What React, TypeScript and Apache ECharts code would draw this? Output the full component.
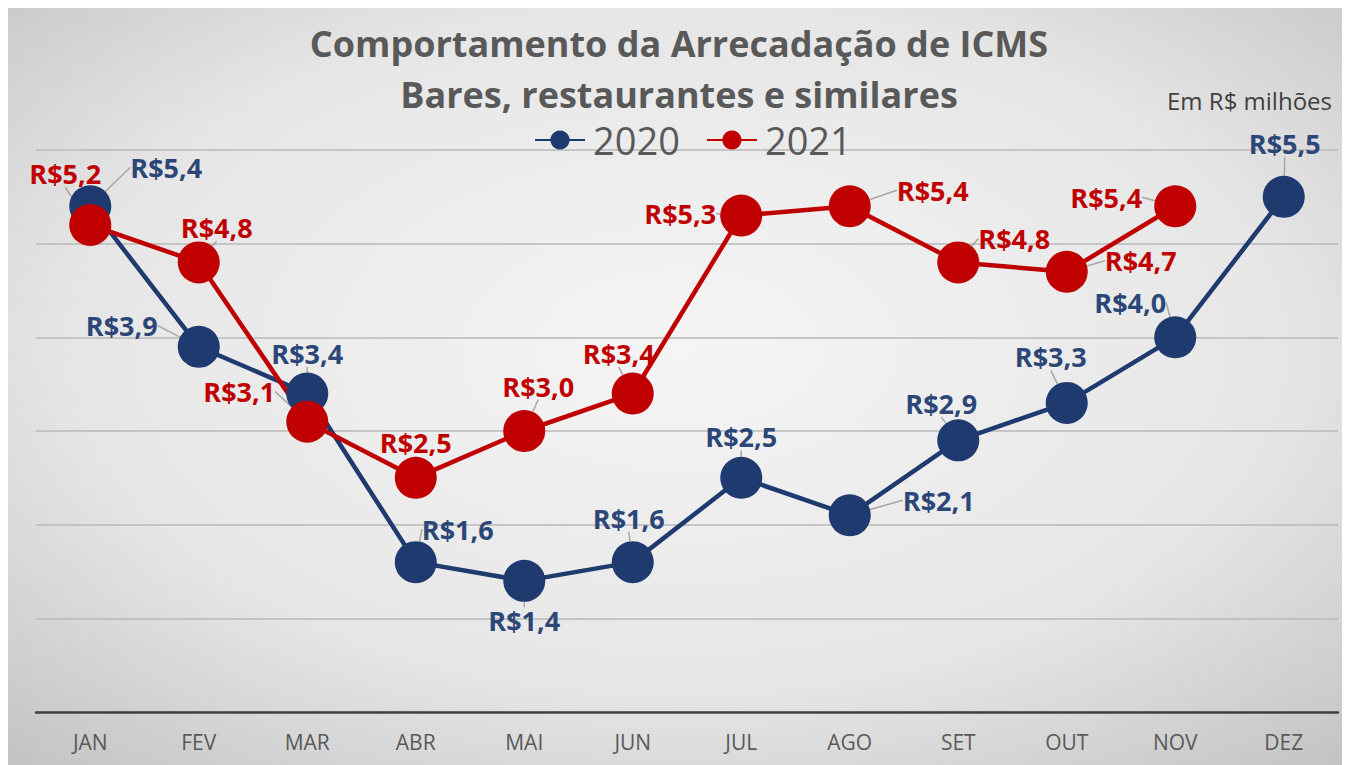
import React, { useEffect, useRef } from "react";
import * as echarts from "echarts";

const months = ["JAN", "FEV", "MAR", "ABR", "MAI", "JUN", "JUL", "AGO", "SET", "OUT", "NOV", "DEZ"];
const values2020 = [5.4, 3.9, 3.4, 1.6, 1.4, 1.6, 2.5, 2.1, 2.9, 3.3, 4.0, 5.5];
const values2021 = [5.2, 4.8, 3.1, 2.5, 3.0, 3.4, 5.3, 5.4, 4.8, 4.7, 5.4, null];
const seriesNames = ["2020", "2021"];
const yTicks = [0, 1, 2, 3, 4, 5, 6];

// label offsets (dx, dy) relative to each point's centre
const offsets2020 = [
  [76, -39], [-77, -21], [0, -40], [42, -33], [0, 40], [-4, -44],
  [0, -41], [89, -15], [-17, -37], [-16, -46], [-45, -35], [1, -53],
];
const offsets2021 = [
  [-25, -51], [18, -35], [-68, -30], [0, -35], [14, -45], [-14, -40],
  [-61, -2], [83, -16], [56, -24], [74, -11], [-69, -9], [0, 0],
];

const BLUE = "#1F3A6E";
const BLUE_LABEL = "#2C4777";
const RED = "#C00000";
const FONT = "'Open Sans', sans-serif";

const fmt = (v: number) => "R$" + v.toFixed(1).replace(".", ",");

export default function App() {
  const ref = useRef<HTMLDivElement>(null);
  useEffect(() => {
    if (!ref.current) return;
    const chart = echarts.init(ref.current, null, { renderer: "svg" });
    const offsets = [offsets2020, offsets2021];
    const mkSeries = (name: string, data: (number | null)[], color: string, labelColor: string) => ({
      name,
      type: "line",
      data,
      symbol: "circle",
      symbolSize: 42,
      showAllSymbol: true,
      lineStyle: { color, width: 4.5 },
      itemStyle: { color },
      label: {
        show: true,
        position: "inside",
        formatter: (p: any) => fmt(p.value),
        color: labelColor,
        fontFamily: FONT,
        fontWeight: "bold",
        fontSize: 27,
      },
      labelLine: { show: true, lineStyle: { color: "#a6a6a6", width: 1.5 } },
      labelLayout: (p: any) => {
        const o = offsets[p.seriesIndex][p.dataIndex];
        return { dx: o[0], dy: o[1] };
      },
    });
    chart.setOption({
      animation: false,
      backgroundColor: {
        type: "radial",
        x: 0.5,
        y: 0.45,
        r: 0.75,
        colorStops: [
          { offset: 0, color: "#f5f5f5" },
          { offset: 0.6, color: "#e6e6e6" },
          { offset: 1, color: "#c2c2c2" },
        ],
      },
      title: {
        text: "Comportamento da Arrecadação de ICMS\nBares, restaurantes e similares",
        left: "center",
        top: 10,
        padding: 0,
        textStyle: {
          fontFamily: FONT,
          fontWeight: "bold",
          fontSize: 36,
          lineHeight: 51,
          color: "#595959",
        },
      },
      graphic: [
        {
          type: "text",
          right: 18,
          top: 80,
          style: { text: "Em R$ milhões", fontFamily: FONT, fontSize: 24, fill: "#404040" },
        },
      ],
      legend: {
        data: seriesNames,
        top: 113,
        left: 526,
        padding: 0,
        itemWidth: 50,
        itemHeight: 24,
        itemGap: 26,
        textStyle: { fontFamily: FONT, fontSize: 38, color: "#595959", padding: [0, 0, 0, 3] },
      },
      grid: { left: 28, right: 12, top: 142, bottom: 53 },
      xAxis: {
        type: "category",
        data: months,
        boundaryGap: true,
        axisTick: { show: false },
        axisLine: { lineStyle: { color: "#404040", width: 2.5 } },
        axisLabel: { fontFamily: FONT, fontSize: 21, color: "#595959", margin: 19 },
      },
      yAxis: {
        type: "value",
        min: yTicks[0],
        max: yTicks[yTicks.length - 1],
        interval: 1,
        axisLabel: { show: false },
        axisLine: { show: false },
        axisTick: { show: false },
        splitLine: { lineStyle: { color: "#b8b8b8", width: 1.5 } },
      },
      series: [
        mkSeries(seriesNames[0], values2020, BLUE, BLUE_LABEL),
        mkSeries(seriesNames[1], values2021, RED, RED),
      ],
    });
    return () => chart.dispose();
  }, []);
  return <div ref={ref} style={{ width: 1342, height: 757 }} />;
}
